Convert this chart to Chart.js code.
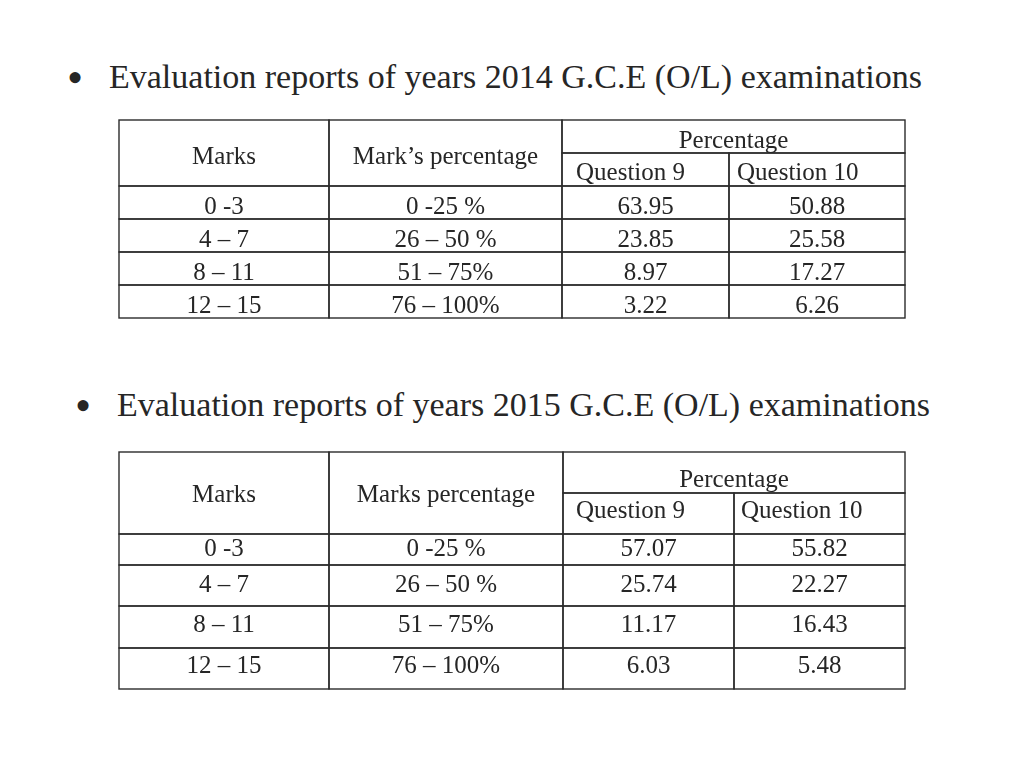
<!DOCTYPE html>
<html>
<head>
<meta charset="utf-8">
<script src="https://cdn.jsdelivr.net/npm/chart.js@4/dist/chart.umd.min.js"></script>
<style>
  body { margin: 0; background: #fff; width: 1024px; height: 768px; overflow: hidden; position: relative; }
  .title { position: absolute; font-family: "Liberation Serif", "Times New Roman", serif; font-size: 34px; line-height: 34px; color: #262626; white-space: nowrap; }
  .bullet { position: absolute; font-family: "Liberation Serif", "Times New Roman", serif; font-size: 46px; line-height: 46px; color: #262626; }
  canvas { position: absolute; }
</style>
</head>
<body>

<div class="bullet" style="left:67px; top:55px;">•</div>
<div class="title" style="left:109px; top:60px;">Evaluation reports of years 2014 G.C.E (O/L) examinations</div>
<canvas id="table2014" width="794" height="206" style="left:115px; top:116px;"></canvas>

<div class="bullet" style="left:75px; top:383px;">•</div>
<div class="title" style="left:117px; top:388px;">Evaluation reports of years 2015 G.C.E (O/L) examinations</div>
<canvas id="table2015" width="794" height="245" style="left:115px; top:448px;"></canvas>

<script>
// ---- data ----
var marks = ['0 -3', '4 – 7', '8 – 11', '12 – 15'];
var markPct = ['0 -25 %', '26 – 50 %', '51 – 75%', '76 – 100%'];

var headers2014 = ['Marks', 'Mark’s percentage', 'Percentage', 'Question 9', 'Question 10'];
var q9_2014 = [63.95, 23.85, 8.97, 3.22];
var q10_2014 = [50.88, 25.58, 17.27, 6.26];

var headers2015 = ['Marks', 'Marks percentage', 'Percentage', 'Question 9', 'Question 10'];
var q9_2015 = [57.07, 25.74, 11.17, 6.03];
var q10_2015 = [55.82, 22.27, 16.43, 5.48];

// ---- layout of each table (scale units = px) ----
var layout2014 = {
  colEdges: [0, 210, 443, 610, 786],
  rowEdges: [0, 33, 66, 99, 132, 165, 198],
  headDy: [3, 3, 3.5, 2.5, 2.5],
  rowDy: [3, 3.5, 3, 3],
  leftPad: [14, 8]
};
var layout2015 = {
  colEdges: [0, 210, 444, 615, 786],
  rowEdges: [0, 41, 82, 113, 154, 196, 237],
  headDy: [1, 1, 6, -3.5, -4],
  rowDy: [-2, -2, -3.7, -3.8],
  leftPad: [13, 7]
};

var PAD = 4;
var FONT_SIZE = 25;
var FONT = FONT_SIZE + 'px "Liberation Serif", "Times New Roman", serif';
var INK = '#262626';

function buildCells(head, q9, q10, lay) {
  var cells = [
    { text: head[0], c: [0, 1], r: [0, 2], dy: lay.headDy[0] },
    { text: head[1], c: [1, 2], r: [0, 2], dy: lay.headDy[1] },
    { text: head[2], c: [2, 4], r: [0, 1], dy: lay.headDy[2] },
    { text: head[3], c: [2, 3], r: [1, 2], dy: lay.headDy[3], pad: lay.leftPad[0] },
    { text: head[4], c: [3, 4], r: [1, 2], dy: lay.headDy[4], pad: lay.leftPad[1] }
  ];
  for (var i = 0; i < marks.length; i++) {
    var row = [i + 2, i + 3];
    cells.push({ text: marks[i], c: [0, 1], r: row, dy: lay.rowDy[i] });
    cells.push({ text: markPct[i], c: [1, 2], r: row, dy: lay.rowDy[i] });
    cells.push({ text: q9[i].toFixed(2), c: [2, 3], r: row, dy: lay.rowDy[i] });
    cells.push({ text: q10[i].toFixed(2), c: [3, 4], r: row, dy: lay.rowDy[i] });
  }
  return cells;
}

// draws borders of every cell and its text, using the chart's scales
var tablePlugin = {
  id: 'tablePlugin',
  afterDatasetsDraw: function(chart) {
    var ctx = chart.ctx;
    var xs = chart.scales.x, ys = chart.scales.y;
    var lay = chart.options.plugins.tablePlugin.layout;
    var cells = chart.data.datasets[0].data;
    var points = chart.getDatasetMeta(0).data;

    ctx.save();
    ctx.strokeStyle = '#2b2b2b';
    ctx.lineWidth = 1.4;
    cells.forEach(function(cell) {
      var x0 = xs.getPixelForValue(lay.colEdges[cell.c[0]]);
      var x1 = xs.getPixelForValue(lay.colEdges[cell.c[1]]);
      var y0 = ys.getPixelForValue(lay.rowEdges[cell.r[0]]);
      var y1 = ys.getPixelForValue(lay.rowEdges[cell.r[1]]);
      ctx.strokeRect(x0, y0, x1 - x0, y1 - y0);
    });

    ctx.fillStyle = INK;
    ctx.font = FONT;
    ctx.textBaseline = 'alphabetic';
    cells.forEach(function(cell, i) {
      var pt = points[i];
      var y = pt.y + cell.dy + FONT_SIZE * 0.33;
      if (cell.pad !== undefined) {
        ctx.textAlign = 'left';
        ctx.fillText(cell.text, xs.getPixelForValue(lay.colEdges[cell.c[0]]) + cell.pad, y);
      } else {
        ctx.textAlign = 'center';
        ctx.fillText(cell.text, pt.x, y);
      }
    });
    ctx.restore();
  }
};

function makeTable(id, head, q9, q10, lay) {
  var cells = buildCells(head, q9, q10, lay);
  // each cell is a point at the centre of its box
  var points = cells.map(function(cell) {
    return {
      x: (lay.colEdges[cell.c[0]] + lay.colEdges[cell.c[1]]) / 2,
      y: (lay.rowEdges[cell.r[0]] + lay.rowEdges[cell.r[1]]) / 2,
      text: cell.text, c: cell.c, r: cell.r, dy: cell.dy, pad: cell.pad
    };
  });
  var W = lay.colEdges[lay.colEdges.length - 1];
  var H = lay.rowEdges[lay.rowEdges.length - 1];

  return new Chart(document.getElementById(id), {
    type: 'scatter',
    data: { datasets: [{ data: points, pointRadius: 0, pointHoverRadius: 0 }] },
    options: {
      responsive: false,
      animation: false,
      events: [],
      layout: { padding: PAD },
      scales: {
        x: { type: 'linear', min: 0, max: W, display: false },
        y: { type: 'linear', min: 0, max: H, reverse: true, display: false }
      },
      plugins: {
        legend: { display: false },
        tooltip: { enabled: false },
        tablePlugin: { layout: lay }
      }
    },
    plugins: [tablePlugin]
  });
}

makeTable('table2014', headers2014, q9_2014, q10_2014, layout2014);
makeTable('table2015', headers2015, q9_2015, q10_2015, layout2015);
</script>
</body>
</html>
